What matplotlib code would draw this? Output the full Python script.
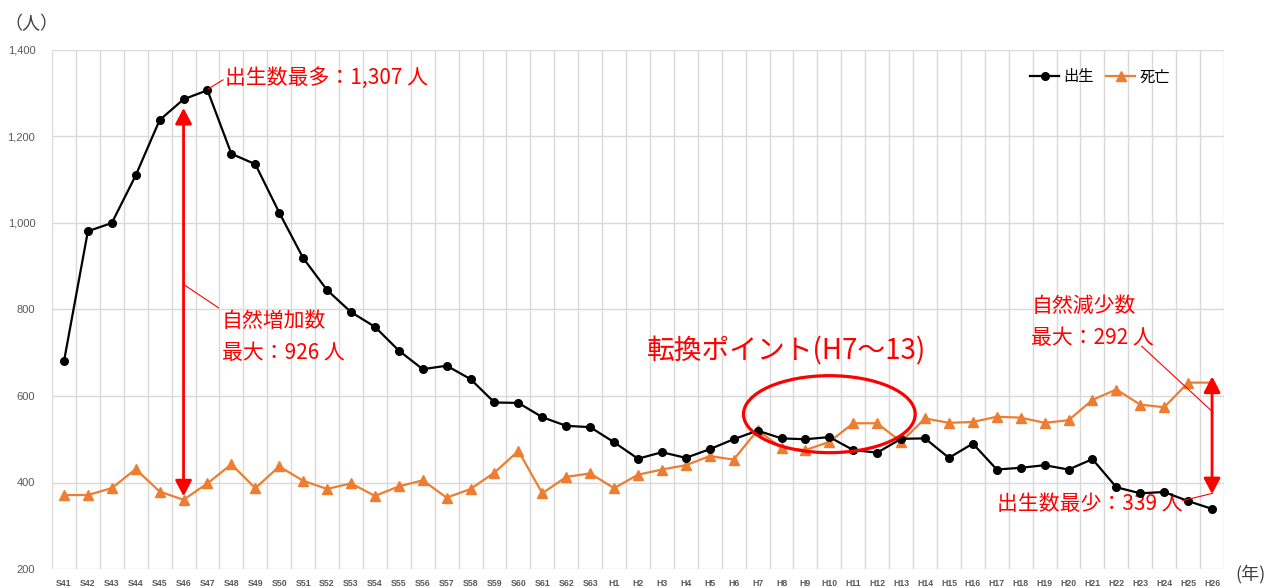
import matplotlib
matplotlib.use("Agg")
import matplotlib.pyplot as plt
from matplotlib.patches import Ellipse
from matplotlib.ticker import FuncFormatter, FixedLocator

plt.rcParams['font.family'] = ['Noto Sans CJK JP', 'DejaVu Sans']

# ---- data ----
years = (["S41", "S42", "S43", "S44", "S45", "S46", "S47", "S48", "S49", "S50",
          "S51", "S52", "S53", "S54", "S55", "S56", "S57", "S58", "S59", "S60",
          "S61", "S62", "S63"] +
         ["H1", "H2", "H3", "H4", "H5", "H6", "H7", "H8", "H9", "H10",
          "H11", "H12", "H13", "H14", "H15", "H16", "H17", "H18", "H19", "H20",
          "H21", "H22", "H23", "H24", "H25", "H26"])

births = [680, 981, 1000, 1110, 1238, 1286, 1307, 1160, 1136, 1024,
          919, 845, 794, 760, 705, 662, 670, 639, 585, 584,
          551, 531, 528,
          493, 455, 470, 457, 477, 500, 520, 502, 500, 505,
          475, 469, 501, 502, 457, 490, 430, 434, 440, 430,
          454, 389, 375, 378, 357, 339]

deaths = [371, 371, 387, 431, 379, 360, 398, 442, 387, 437,
          404, 385, 398, 369, 391, 405, 365, 385, 423, 473,
          375, 413, 421,
          387, 418, 430, 440, 461, 453, 521, 480, 475, 494,
          537, 537, 494, 548, 538, 540, 552, 550, 538, 544,
          591, 615, 580, 574, 631, 631]

series_names = ["出生", "死亡"]
yticks = [200, 400, 600, 800, 1000, 1200, 1400]

RED = "#FF0000"
ORANGE = "#ED7D31"
GRID = "#D9D9D9"
TICKC = "#595959"

fig = plt.figure(figsize=(12.69, 5.88), dpi=100)
ax = fig.add_axes([52 / 1269, 19 / 588, (1224 - 52) / 1269, (569 - 50) / 588])

x = list(range(len(years)))
ax.plot(x, births, color="black", lw=1.6, marker="o", markersize=5.5,
        label=series_names[0], zorder=4, clip_on=False)
ax.plot(x, deaths, color=ORANGE, lw=1.6, marker="^", markersize=7,
        label=series_names[1], zorder=3, clip_on=False)

ax.set_xlim(-0.5, len(years) - 0.5)
ax.set_ylim(200, 1400)
ax.set_yticks(yticks)
ax.yaxis.set_major_formatter(FuncFormatter(lambda v, p: f"{int(v):,}"))
ax.set_xticks(x)
ax.set_xticklabels(years)
ax.xaxis.set_minor_locator(FixedLocator([i - 0.5 for i in range(len(years) + 1)]))

for s in ax.spines.values():
    s.set_visible(False)
ax.grid(axis="y", which="major", color=GRID, lw=1.0)
ax.grid(axis="x", which="minor", color=GRID, lw=1.0)
ax.grid(axis="x", which="major", visible=False)
ax.set_axisbelow(True)
ax.tick_params(axis="both", which="both", length=0)
ax.tick_params(axis="y", labelsize=8, colors=TICKC, pad=12)
ax.tick_params(axis="x", labelsize=6.3, colors=TICKC, pad=7)
for lab in ax.get_yticklabels():
    lab.set_family(["Liberation Sans", "DejaVu Sans"])
for lab in ax.get_xticklabels():
    lab.set_family(["Liberation Sans", "DejaVu Sans"])
    lab.set_fontweight("bold")

# legend
leg = ax.legend(loc="center left", bbox_to_anchor=(1030 / 1269, 1 - 77 / 588),
                bbox_transform=fig.transFigure, ncol=2, frameon=False,
                fontsize=11, handlelength=1.9, handletextpad=0.3,
                columnspacing=0.8, borderpad=0, borderaxespad=0)

# axis unit labels
fig.text(31 / 1269, 1 - 24 / 588, "（人）", ha="center", va="center",
         fontsize=13, color="#404040")
fig.text(1266 / 1269, 1 - 574 / 588, "(年)", ha="right", va="center",
         fontsize=13, color="#404040")

# ---- annotations ----
tfs = 15
i46 = years.index("S46")
i47 = years.index("S47")
i26 = years.index("H26")
i10 = years.index("H10")

arrow_style = "<|-|>,head_length=0.95,head_width=0.5"
ax.annotate("", xy=(i46, 1266), xytext=(i46, 368),
            arrowprops=dict(arrowstyle=arrow_style, color=RED, lw=2,
                            shrinkA=0, shrinkB=0, mutation_scale=10), zorder=6)
ax.annotate("", xy=(i26, 645), xytext=(i26, 373),
            arrowprops=dict(arrowstyle=arrow_style, color=RED, lw=2,
                            shrinkA=0, shrinkB=0, mutation_scale=10),
            annotation_clip=False, zorder=6)

# max births
ax.plot([i47 + 0.03, 6.65], [1310, 1331], color=RED, lw=0.8, zorder=5)
ax.text(6.74, 1335, "出生数最多：1,307 人", color=RED, fontsize=tfs,
        va="center", ha="left")

# natural increase
ax.plot([i46, 6.46], [858, 804], color=RED, lw=0.8, zorder=5)
ax.text(6.6, 773, "自然増加数", color=RED, fontsize=tfs, va="center", ha="left")
ax.text(6.6, 700, "最大：926 人", color=RED, fontsize=tfs, va="center", ha="left")

# turning point
ax.text(24.38, 704, "転換ポイント(H7～13)", color=RED, fontsize=20,
        va="center", ha="left")
ax.add_patch(Ellipse((i10, 558), 7.18, 178, fill=False, edgecolor=RED,
                     lw=2.3, zorder=6))

# natural decrease
ax.text(40.45, 808, "自然減少数", color=RED, fontsize=tfs, va="center", ha="left")
ax.text(40.45, 735, "最大：292 人", color=RED, fontsize=tfs, va="center", ha="left")
ax.plot([45.06, i26 + 0.05], [715, 562], color=RED, lw=0.8, zorder=5,
        clip_on=False)

# min births
ax.text(39.03, 350, "出生数最少：339 人", color=RED, fontsize=tfs,
        va="center", ha="left")
ax.plot([46.77, i26 + 0.02], [358, 375], color=RED, lw=0.8, zorder=5,
        clip_on=False)

fig.savefig("out.png", dpi=100)
